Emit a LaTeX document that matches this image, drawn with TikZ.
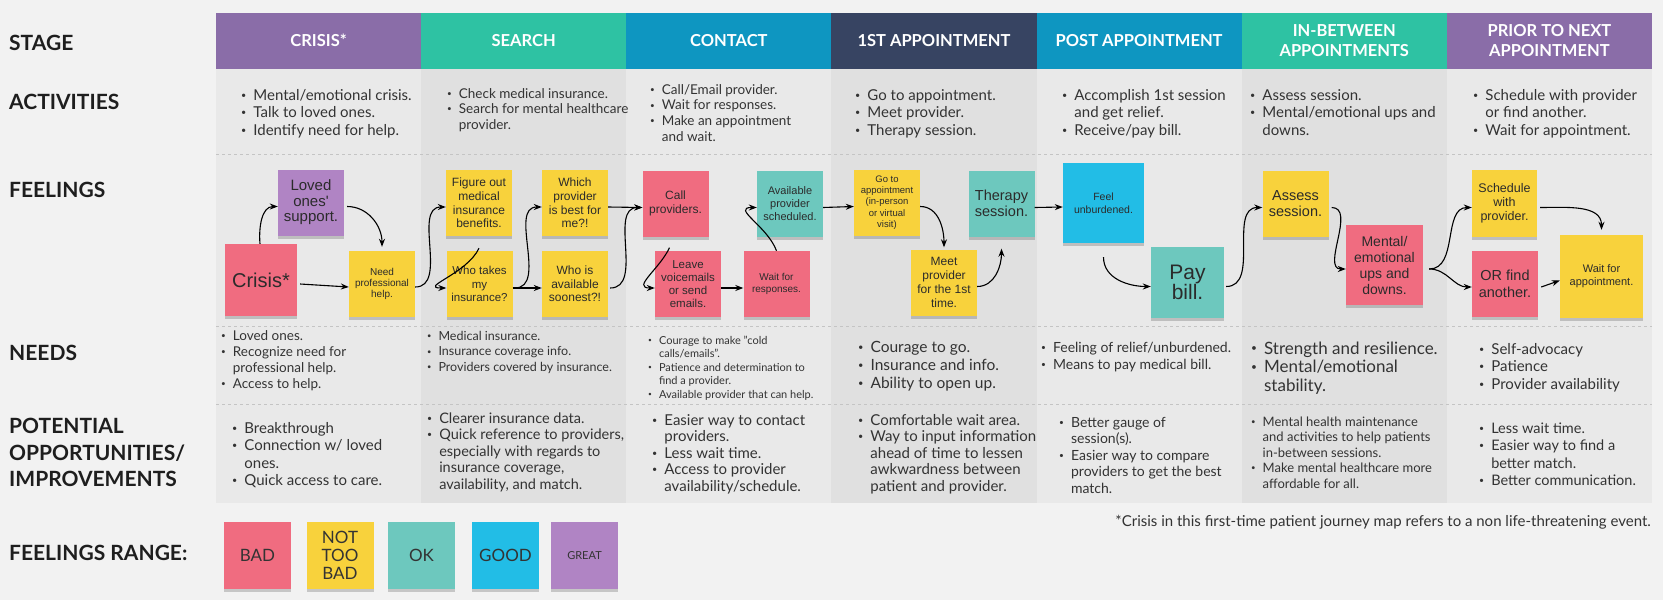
\documentclass[tikz,border=0pt]{standalone}
\usepackage{fontspec}
\setmainfont{Lato}
\newfontfamily\notefont{Liberation Sans}
\usetikzlibrary{positioning,shadows,arrows.meta}

\definecolor{pagebg}{HTML}{F2F2F2}
\definecolor{collight}{HTML}{E9E9E9}
\definecolor{coldark}{HTML}{E0E0E0}
\definecolor{dashgray}{HTML}{C4C4C4}
\definecolor{hpurple}{HTML}{8A6DA8}
\definecolor{hteal}{HTML}{2EC2A3}
\definecolor{hblue}{HTML}{0E96C1}
\definecolor{hnavy}{HTML}{374462}
\definecolor{npink}{HTML}{F06C80}
\definecolor{nyellow}{HTML}{F8D23C}
\definecolor{nteal}{HTML}{6DC8BE}
\definecolor{nblue}{HTML}{22BDE6}
\definecolor{npurple}{HTML}{B084C4}
\definecolor{txtgray}{HTML}{333333}
\definecolor{lblgray}{HTML}{1E1E1E}
\definecolor{notetxt}{HTML}{2B2B2B}

\newcommand{\fs}[2]{\fontsize{#1}{#2}\selectfont}
\newcommand{\bul}{\raisebox{.12em}{\scalebox{.6}{\textbullet}}}
\newcommand{\blist}[1]{\begin{tabular}[t]{@{}l@{\hspace{7pt}}l@{}}#1\end{tabular}}

\tikzset{
  rowlabel/.style={anchor=west, inner sep=0pt, align=left, text=lblgray,
    font=\bfseries\fs{21}{26.5}},
  headtxt/.style={text=white, align=center, font=\bfseries\fs{16.5}{20}},
  cellbox/.style={anchor=base west, inner sep=0pt, text=txtgray},
  note/.style={fill=#1, inner sep=1pt, align=center, text=notetxt,
    minimum width=66pt, minimum height=66pt,
    drop shadow={shadow xshift=0pt, shadow yshift=-3pt, opacity=.18, fill=black}},
  conn/.style={->, line width=1.1pt, black},
}

\begin{document}
\begin{tikzpicture}[x=1pt,y=1pt,>={Stealth[length=8pt,width=6pt]}]
\fill[pagebg] (0,0) rectangle (1663,-600);
\useasboundingbox (0,0) rectangle (1663,-600);

% stage columns
\foreach \i/\head/\hc in {0/CRISIS*/hpurple,1/SEARCH/hteal,2/CONTACT/hblue,
  3/1ST APPOINTMENT/hnavy,4/POST APPOINTMENT/hblue,
  5/{IN-BETWEEN\\APPOINTMENTS}/hteal,6/{PRIOR TO NEXT\\APPOINTMENT}/hpurple}
{
  \pgfmathsetmacro\xl{216+205.14*\i}
  \pgfmathsetmacro\xr{\xl+205.14}
  \ifodd\i\relax\def\bg{coldark}\else\def\bg{collight}\fi
  \fill[\bg] (\xl,-69) rectangle (\xr,-503);
  \fill[\hc] (\xl,-12.5) rectangle (\xr,-69);
  \node[headtxt] (head\i) at ({\xl+102.57},-40.5) {\head};
}
\foreach \y in {154,326,404}
  \draw[dashgray, line width=.8pt, dash pattern=on 3pt off 3pt] (216,-\y) -- (1652,-\y);

% row labels
\node[rowlabel] (lstage) at (9,-43) {STAGE};
\node[rowlabel] (lact) at (9,-102) {ACTIVITIES};
\node[rowlabel] (lfeel) at (9,-190) {FEELINGS};
\node[rowlabel] (lneed) at (9,-353) {NEEDS};
\node[rowlabel] (lopp) at (9,-452.5) {POTENTIAL\\OPPORTUNITIES/\\IMPROVEMENTS};
\node[rowlabel] (lrange) at (9,-553) {FEELINGS RANGE:};

% activities
\node[cellbox, font=\fs{15}{17.5}] (act0) at (241,-100) {\blist{\bul & Mental/emotional crisis.\\ \bul & Talk to loved ones.\\ \bul & Identify need for help.}};
\node[cellbox, font=\fs{13.5}{15.5}] (act1) at (447,-98) {\blist{\bul & Check medical insurance.\\ \bul & Search for mental healthcare\\ & provider.}};
\node[cellbox, font=\fs{13.5}{15.7}] (act2) at (650,-94) {\blist{\bul & Call/Email provider.\\ \bul & Wait for responses.\\ \bul & Make an appointment\\ & and wait.}};
\node[cellbox, font=\fs{15}{17.5}] (act3) at (855,-100) {\blist{\bul & Go to appointment.\\ \bul & Meet provider.\\ \bul & Therapy session.}};
\node[cellbox, font=\fs{15}{17.5}] (act4) at (1062,-100) {\blist{\bul & Accomplish 1st session\\ & and get relief.\\ \bul & Receive/pay bill.}};
\node[cellbox, font=\fs{15}{17.5}] (act5) at (1250,-100) {\blist{\bul & Assess session.\\ \bul & Mental/emotional ups and\\ & downs.}};
\node[cellbox, font=\fs{15}{17.5}] (act6) at (1473,-100) {\blist{\bul & Schedule with provider\\ & or find another.\\ \bul & Wait for appointment.}};

% feelings
\node[note=npink, minimum width=72pt, minimum height=72pt, font=\notefont\fs{20}{22}] (crisis) at (261,-280) {Crisis*};
\node[note=npurple, font=\notefont\fs{15}{15.5}] (loved) at (311,-202.5) {Loved\\ones'\\support.};
\node[note=nyellow, font=\notefont\fs{10}{10.8}] (need) at (382,-284) {Need\\professional\\help.};
\node[note=nyellow, font=\notefont\fs{12}{13.8}] (figure) at (479,-203) {Figure out\\medical\\insurance\\benefits.};
\node[note=nyellow, font=\notefont\fs{11.5}{13.5}] (whotakes) at (479.5,-284) {Who takes\\my\\insurance?};
\node[note=nyellow, font=\notefont\fs{12}{13.7}] (which) at (575,-203) {Which\\provider\\is best for\\me?!};
\node[note=nyellow, font=\notefont\fs{12}{13.5}] (whois) at (575,-284) {Who is\\available\\soonest?!};
\node[note=npink, font=\notefont\fs{12}{13.3}] (call) at (675.5,-203.5) {Call\\providers.};
\node[note=npink, font=\notefont\fs{11.5}{13}] (leave) at (688,-284) {Leave\\voicemails\\or send\\emails.};
\node[note=npink, font=\notefont\fs{10}{11.2}] (wait) at (776.5,-284) {Wait for\\responses.};
\node[note=nteal, font=\notefont\fs{11}{12.7}] (avail) at (790,-203.5) {Available\\provider\\scheduled.};
\node[note=nyellow, font=\notefont\fs{9.5}{11.2}] (goto) at (887,-202.5) {Go to\\appointment\\(in-person\\or virtual\\visit)};
\node[note=nyellow, font=\notefont\fs{12}{13.8}] (meet) at (944,-282.5) {Meet\\provider\\for the 1st\\time.};
\node[note=nteal, font=\notefont\fs{14.5}{16.5}] (therapy) at (1001.5,-203.5) {Therapy\\session.};
\node[note=nblue, minimum width=81pt, minimum height=80pt, font=\notefont\fs{10.5}{13}] (feel) at (1103.5,-203) {Feel\\unburdened.};
\node[note=nteal, minimum width=73pt, minimum height=71pt, font=\notefont\fs{21}{19}] (pay) at (1187.5,-282.5) {Pay\\bill.};
\node[note=nyellow, font=\notefont\fs{14.5}{16.5}] (assess) at (1295.5,-203.5) {Assess\\session.};
\node[note=npink, minimum width=77pt, minimum height=80pt, font=\notefont\fs{14}{16}] (mental) at (1384.5,-265) {Mental/\\emotional\\ups and\\downs.};
\node[note=nyellow, minimum width=65pt, minimum height=67pt, font=\notefont\fs{12.5}{14}] (sched) at (1504.5,-203.5) {Schedule\\with\\provider.};
\node[note=npink, font=\notefont\fs{14.5}{16.5}] (orfind) at (1505,-284) {OR find\\another.};
\node[note=nyellow, minimum width=83pt, minimum height=83pt, font=\notefont\fs{11}{12.7}] (waitappt) at (1601.5,-276.5) {Wait for\\appointment.};

\draw[conn] ([xshift=-1pt]crisis.north) to[out=95,in=180] ([yshift=-4pt]loved.west);
\draw[conn] ([xshift=3pt,yshift=-4pt]loved.east) to[out=0,in=90] ([yshift=4pt]need.north);
\draw[conn] ([xshift=3pt,yshift=-4pt]crisis.east) -- ([yshift=-3pt]need.west);
\draw[conn] ([yshift=-3pt]need.east) to[out=0,in=180] ([yshift=-4pt]figure.west);
\draw[conn] ([yshift=-12pt]figure.south) to[out=-115,in=180,looseness=1.4] ([yshift=-4pt]whotakes.west);
\draw[conn] ([yshift=-4pt]whotakes.east) -- ([yshift=-4pt]whois.west);
\draw[conn] ([xshift=2pt,yshift=-4pt]whotakes.east) to[out=0,in=180] ([yshift=-4pt]which.west);
\draw[conn] ([yshift=-4pt]which.east) -- ([yshift=-4pt]call.west);
\draw[conn] ([xshift=2pt,yshift=-4pt]whois.east) to[out=0,in=180] ([yshift=-4pt]call.west);
\draw[conn] ([xshift=-6pt,yshift=-11pt]call.south) to[out=-115,in=180,looseness=1.4] ([yshift=-4pt]leave.west);
\draw[conn] ([yshift=-4pt]leave.east) -- ([yshift=-4pt]wait.west);
\draw[conn] (wait.north) to[out=110,in=180,looseness=1.4] ([yshift=-4pt]avail.west);
\draw[conn] ([yshift=-4pt]avail.east) -- ([yshift=-4pt]goto.west);
\draw[conn] ([yshift=-4pt]goto.east) to[out=0,in=90] ([yshift=2pt]meet.north);
\draw[conn] ([yshift=-4pt]meet.east) to[out=0,in=-90] ([yshift=-12pt]therapy.south);
\draw[conn] ([yshift=-4pt]therapy.east) -- ([yshift=-4pt]feel.west);
\draw[conn] ([yshift=-14pt]feel.south) to[out=-90,in=180] ([yshift=-4pt]pay.west);
\draw[conn] ([xshift=2pt,yshift=-4pt]pay.east) to[out=0,in=180] ([yshift=-4pt]assess.west);
\draw[conn] ([xshift=3pt,yshift=-4pt]assess.east) to[out=0,in=180] ([yshift=-4pt]mental.west);
\draw[conn] ([xshift=6pt,yshift=-4pt]mental.east) to[out=0,in=180] ([yshift=-4pt]sched.west);
\draw[conn] ([xshift=6pt,yshift=-4pt]mental.east) to[out=0,in=180] ([yshift=-3pt]orfind.west);
\draw[conn] ([xshift=3pt,yshift=-4pt]sched.east) to[out=0,in=90] ([yshift=5pt]waitappt.north);
\draw[conn] ([xshift=3pt,yshift=-3pt]orfind.east) -- ([yshift=-4pt]waitappt.west);

% needs
\node[cellbox, font=\fs{13.5}{16}] (need0) at (221,-340) {\blist{\bul & Loved ones.\\ \bul & Recognize need for\\ & professional help.\\ \bul & Access to help.}};
\node[cellbox, font=\fs{12.5}{15.5}] (need1) at (427,-340) {\blist{\bul & Medical insurance.\\ \bul & Insurance coverage info.\\ \bul & Providers covered by insurance.}};
\node[cellbox, font=\fs{11}{13.5}] (need2) at (648,-344) {\blist{\bul & Courage to make "cold\\ & calls/emails".\\ \bul & Patience and determination to\\ & find a provider.\\ \bul & Available provider that can help.}};
\node[cellbox, font=\fs{15.5}{18}] (need3) at (858,-352) {\blist{\bul & Courage to go.\\ \bul & Insurance and info.\\ \bul & Ability to open up.}};
\node[cellbox, font=\fs{14}{17.5}] (need4) at (1041,-352) {\blist{\bul & Feeling of relief/unburdened.\\ \bul & Means to pay medical bill.}};
\node[cellbox, font=\fs{17}{18.5}] (need5) at (1251,-354) {\blist{\bul & Strength and resilience.\\ \bul & Mental/emotional\\ & stability.}};
\node[cellbox, font=\fs{15}{17.5}] (need6) at (1479,-354) {\blist{\bul & Self-advocacy\\ \bul & Patience\\ \bul & Provider availability}};

% opportunities
\node[cellbox, font=\fs{15}{17.5}] (opp0) at (232,-433) {\blist{\bul & Breakthrough\\ \bul & Connection w/ loved\\ & ones.\\ \bul & Quick access to care.}};
\node[cellbox, font=\fs{14.5}{16.5}] (opp1) at (427,-423) {\blist{\bul & Clearer insurance data.\\ \bul & Quick reference to providers,\\ & especially with regards to\\ & insurance coverage,\\ & availability, and match.}};
\node[cellbox, font=\fs{15}{16.5}] (opp2) at (652,-425) {\blist{\bul & Easier way to contact\\ & providers.\\ \bul & Less wait time.\\ \bul & Access to provider\\ & availability/schedule.}};
\node[cellbox, font=\fs{15}{16.5}] (opp3) at (858,-425) {\blist{\bul & Comfortable wait area.\\ \bul & Way to input information\\ & ahead of time to lessen\\ & awkwardness between\\ & patient and provider.}};
\node[cellbox, font=\fs{14}{16.5}] (opp4) at (1059,-427) {\blist{\bul & Better gauge of\\ & session(s).\\ \bul & Easier way to compare\\ & providers to get the best\\ & match.}};
\node[cellbox, font=\fs{13}{15.5}] (opp5) at (1251,-426) {\blist{\bul & Mental health maintenance\\ & and activities to help patients\\ & in-between sessions.\\ \bul & Make mental healthcare more\\ & affordable for all.}};
\node[cellbox, font=\fs{14.5}{17.5}] (opp6) at (1479,-433) {\blist{\bul & Less wait time.\\ \bul & Easier way to find a\\ & better match.\\ \bul & Better communication.}};

% footnote and range
\node[anchor=east, inner sep=0pt, text=txtgray, font=\fs{15}{17}] (foot) at (1651,-522) {*Crisis in this first-time patient journey map refers to a non life-threatening event.};
\foreach \nm/\col/\x/\txt in {bad/npink/257.5/BAD, ntb/nyellow/340/{NOT\\TOO\\BAD},
  ok/nteal/421.5/OK, good/nblue/505.5/GOOD, great/npurple/584.5/{\fs{11}{13}GREAT}}
  \node[note=\col, minimum width=67pt, minimum height=67pt, text=txtgray, font=\fs{17}{17.7}] (r\nm) at (\x,-555.5) {\txt};
\end{tikzpicture}
\end{document}
